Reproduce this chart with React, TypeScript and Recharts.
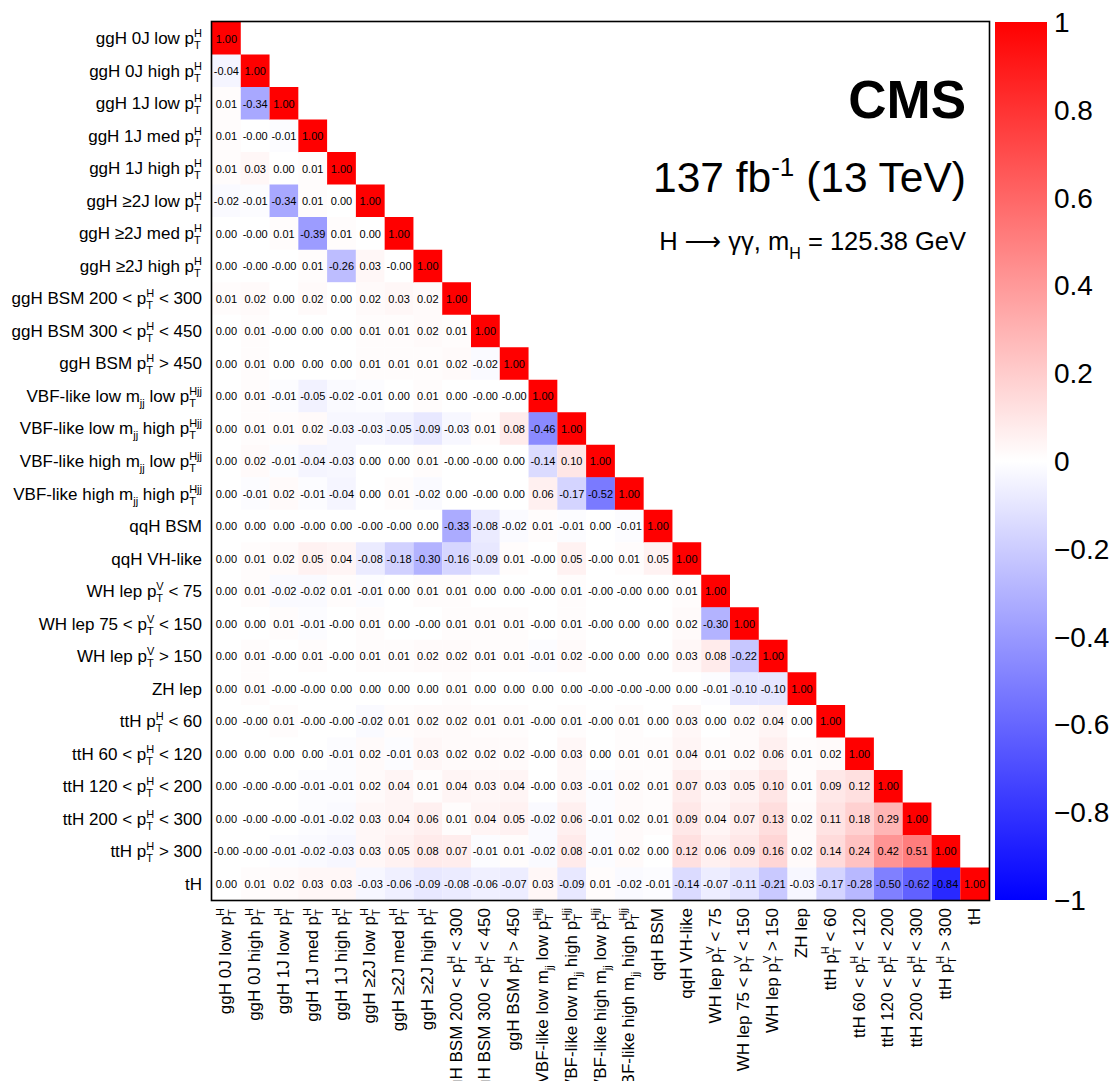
import React from 'react';
import { BarChart, Bar, Cell, XAxis, YAxis, LabelList } from 'recharts';

type Script = { sup?: string; sub?: string };
type Seg = string | Script;

const FONT = '"Liberation Sans", Arial, Helvetica, sans-serif';

const HT: Script = { sup: 'H', sub: 'T' };
const VT: Script = { sup: 'V', sub: 'T' };
const HJJ: Script = { sup: 'Hjj', sub: 'T' };
const JJ: Script = { sub: 'jj' };

// bin names, top row first (same order along the x axis)
const BIN_LABELS: Seg[][] = [
  ['ggH 0J low p', HT],
  ['ggH 0J high p', HT],
  ['ggH 1J low p', HT],
  ['ggH 1J med p', HT],
  ['ggH 1J high p', HT],
  ['ggH \u22652J low p', HT],
  ['ggH \u22652J med p', HT],
  ['ggH \u22652J high p', HT],
  ['ggH BSM 200 < p', HT, ' < 300'],
  ['ggH BSM 300 < p', HT, ' < 450'],
  ['ggH BSM p', HT, ' > 450'],
  ['VBF-like low m', JJ, ' low p', HJJ],
  ['VBF-like low m', JJ, ' high p', HJJ],
  ['VBF-like high m', JJ, ' low p', HJJ],
  ['VBF-like high m', JJ, ' high p', HJJ],
  ['qqH BSM'],
  ['qqH VH-like'],
  ['WH lep p', VT, ' < 75'],
  ['WH lep 75 < p', VT, ' < 150'],
  ['WH lep p', VT, ' > 150'],
  ['ZH lep'],
  ['ttH p', HT, ' < 60'],
  ['ttH 60 < p', HT, ' < 120'],
  ['ttH 120 < p', HT, ' < 200'],
  ['ttH 200 < p', HT, ' < 300'],
  ['ttH p', HT, ' > 300'],
  ['tH'],
];

// lower triangle of the correlation matrix (-0 marks a printed "-0.00")
const CORR_ROWS: number[][] = [
  [1.0],
  [-0.04, 1.0],
  [0.01, -0.34, 1.0],
  [0.01, -0, -0.01, 1.0],
  [0.01, 0.03, 0.0, 0.01, 1.0],
  [-0.02, -0.01, -0.34, 0.01, 0.0, 1.0],
  [0.0, -0, 0.01, -0.39, 0.01, 0.0, 1.0],
  [0.0, -0, -0, 0.01, -0.26, 0.03, -0, 1.0],
  [0.01, 0.02, 0.0, 0.02, 0.0, 0.02, 0.03, 0.02, 1.0],
  [0.0, 0.01, -0, 0.0, 0.0, 0.01, 0.01, 0.02, 0.01, 1.0],
  [0.0, 0.01, 0.0, 0.0, 0.0, 0.01, 0.01, 0.01, 0.02, -0.02, 1.0],
  [0.0, 0.01, -0.01, -0.05, -0.02, -0.01, 0.0, 0.01, 0.0, -0, -0, 1.0],
  [0.0, 0.01, 0.01, 0.02, -0.03, -0.03, -0.05, -0.09, -0.03, 0.01, 0.08, -0.46, 1.0],
  [0.0, 0.02, -0.01, -0.04, -0.03, 0.0, 0.0, 0.01, -0, -0, 0.0, -0.14, 0.1, 1.0],
  [0.0, -0.01, 0.02, -0.01, -0.04, 0.0, 0.01, -0.02, 0.0, -0, 0.0, 0.06, -0.17, -0.52, 1.0],
  [0.0, 0.0, 0.0, -0, 0.0, -0, -0, 0.0, -0.33, -0.08, -0.02, 0.01, -0.01, 0.0, -0.01, 1.0],
  [0.0, 0.01, 0.02, 0.05, 0.04, -0.08, -0.18, -0.3, -0.16, -0.09, 0.01, -0, 0.05, -0, 0.01, 0.05, 1.0],
  [0.0, 0.01, -0.02, -0.02, 0.01, -0.01, 0.0, 0.01, 0.01, 0.0, 0.0, -0, 0.01, -0, -0, 0.0, 0.01, 1.0],
  [0.0, 0.0, 0.01, -0.01, -0, 0.01, 0.0, -0, 0.01, 0.01, 0.01, -0, 0.01, -0, 0.0, 0.0, 0.02, -0.3, 1.0],
  [0.0, 0.01, -0, 0.01, -0, 0.01, 0.01, 0.02, 0.02, 0.01, 0.01, -0.01, 0.02, -0, 0.0, 0.0, 0.03, 0.08, -0.22, 1.0],
  [0.0, 0.01, -0, -0, 0.0, 0.0, 0.0, 0.0, 0.01, 0.0, 0.0, 0.0, 0.0, -0, -0, -0, 0.0, -0.01, -0.1, -0.1, 1.0],
  [0.0, -0, 0.01, -0, -0, -0.02, 0.01, 0.02, 0.02, 0.01, 0.01, -0, 0.01, -0, 0.01, 0.0, 0.03, 0.0, 0.02, 0.04, 0.0, 1.0],
  [0.0, 0.0, 0.0, 0.0, -0.01, 0.02, -0.01, 0.03, 0.02, 0.02, 0.02, -0, 0.03, 0.0, 0.01, 0.01, 0.04, 0.01, 0.02, 0.06, 0.01, 0.02, 1.0],
  [0.0, -0, -0, -0.01, -0.01, 0.02, 0.04, 0.01, 0.04, 0.03, 0.04, -0, 0.03, -0.01, 0.02, 0.01, 0.07, 0.03, 0.05, 0.1, 0.01, 0.09, 0.12, 1.0],
  [0.0, -0, -0, -0.01, -0.02, 0.03, 0.04, 0.06, 0.01, 0.04, 0.05, -0.02, 0.06, -0.01, 0.02, 0.01, 0.09, 0.04, 0.07, 0.13, 0.02, 0.11, 0.18, 0.29, 1.0],
  [-0, -0, -0.01, -0.02, -0.03, 0.03, 0.05, 0.08, 0.07, -0.01, 0.01, -0.02, 0.08, -0.01, 0.02, 0.0, 0.12, 0.06, 0.09, 0.16, 0.02, 0.14, 0.24, 0.42, 0.51, 1.0],
  [0.0, 0.01, 0.02, 0.03, 0.03, -0.03, -0.06, -0.09, -0.08, -0.06, -0.07, 0.03, -0.09, 0.01, -0.02, -0.01, -0.14, -0.07, -0.11, -0.21, -0.03, -0.17, -0.28, -0.5, -0.62, -0.84, 1.0],
];

const CBAR_TICKS = [1, 0.8, 0.6, 0.4, 0.2, 0, -0.2, -0.4, -0.6, -0.8, -1];

const N = BIN_LABELS.length;
const W = 1113;
const H = 1081;
const PLOT_LEFT = 212;
const PLOT_TOP = 22;
const PLOT_RIGHT = 989;
const PLOT_BOTTOM = 900;

const COL_CENTERS = BIN_LABELS.map((_, j) => j + 0.5);

const rows = CORR_ROWS.map((r, i) => {
  const o: Record<string, any> = { name: String(i) };
  for (let j = 0; j < N; j++) {
    o[`c${j}`] = j <= i ? 1 : 0;
    o[`v${j}`] = j <= i ? r[j] : undefined;
  }
  return o;
});

const corrColor = (v: number) => {
  if (v >= 0) {
    const g = Math.round(255 * (1 - v));
    return `rgb(255,${g},${g})`;
  }
  const g = Math.round(255 * (1 + v));
  return `rgb(${g},${g},255)`;
};

const fmt = (v: number) => (v < 0 || Object.is(v, -0) ? '-' : '') + Math.abs(v).toFixed(2);

const SCRIPT_W: Record<string, number> = { H: 0.722, T: 0.611, V: 0.667, j: 0.222 };
const scriptWidth = (s: string, fs: number) =>
  s.split('').reduce((a, c) => a + (SCRIPT_W[c] ?? 0.556), 0) * fs;

// ROOT-like text with stacked super/subscripts
function richSpans(segs: Seg[], fs: number, up: number, down: number) {
  const sfs = Math.round(fs * 0.62);
  const out: React.ReactNode[] = [];
  let cur = 0;
  let pending = 0;
  segs.forEach((s, k) => {
    if (typeof s === 'string') {
      out.push(
        <tspan key={k} dx={pending || undefined} dy={-cur || undefined}>
          {s}
        </tspan>
      );
      cur = 0;
      pending = 0;
      return;
    }
    if (s.sup) {
      out.push(
        <tspan key={`${k}a`} fontSize={sfs} dx={pending || undefined} dy={-up - cur}>
          {s.sup}
        </tspan>
      );
      cur = -up;
      pending = 0;
    }
    if (s.sub) {
      const back = s.sup ? -scriptWidth(s.sup, sfs) : 0;
      out.push(
        <tspan key={`${k}b`} fontSize={sfs} dx={back || pending || undefined} dy={down - cur}>
          {s.sub}
        </tspan>
      );
      cur = down;
      pending = s.sup ? Math.max(0, scriptWidth(s.sup, sfs) - scriptWidth(s.sub, sfs)) : 0;
    }
  });
  return out;
}

const RowTick = (props: any) => {
  const { x, y, payload } = props;
  const i = Number(payload.value);
  return (
    <text x={x} y={y + 6} textAnchor="end" fontSize={17} fontFamily={FONT} fill="#000" style={{ whiteSpace: 'pre' }}>
      {richSpans(BIN_LABELS[i], 17, 7, 5)}
    </text>
  );
};

const ColTick = (props: any) => {
  const { x, y, payload } = props;
  const i = Math.floor(payload.value);
  return (
    <g transform={`translate(${x + 5},${y}) rotate(-90)`}>
      <text x={0} y={0} textAnchor="end" fontSize={17} fontFamily={FONT} fill="#000" style={{ whiteSpace: 'pre' }}>
        {richSpans(BIN_LABELS[i], 17, 7, 5)}
      </text>
    </g>
  );
};

const cellText = (p: any) => {
  if (p.value == null) return null;
  const x = Number(p.x) + Number(p.width) / 2;
  const y = Number(p.y) + Number(p.height) / 2;
  return (
    <text key={`t${p.index}`} x={x} y={y + 4} textAnchor="middle" fontSize={11} fontFamily={FONT} fill="#000">
      {fmt(p.value)}
    </text>
  );
};

const cbarTick = (v: number) => (v === 0 ? '0' : (v < 0 ? '\u2212' : '') + String(Math.abs(v)));

const cbarData = [{ name: 'z', span: [-1, 1] }];

export default function App() {
  return (
    <div style={{ position: 'absolute', left: 0, top: 0, width: W, height: H, background: '#fff', fontFamily: FONT }}>
      <svg width={0} height={0} style={{ position: 'absolute' }}>
        <defs>
          <linearGradient id="cbGrad" x1="0" y1="0" x2="0" y2="1">
            <stop offset="0%" stopColor="#ff0000" />
            <stop offset="50%" stopColor="#ffffff" />
            <stop offset="100%" stopColor="#0000ff" />
          </linearGradient>
        </defs>
      </svg>

      <div style={{ position: 'absolute', left: 0, top: 0 }}>
        <BarChart
          width={W}
          height={H}
          data={rows}
          layout="vertical"
          barCategoryGap={0}
          barGap={0}
          margin={{ top: PLOT_TOP, right: W - PLOT_RIGHT, bottom: 0, left: PLOT_LEFT - 200 }}
        >
          <XAxis
            type="number"
            domain={[0, N]}
            ticks={COL_CENTERS}
            interval={0}
            height={H - PLOT_BOTTOM}
            tick={<ColTick />}
            tickLine={false}
            axisLine={false}
            tickSize={6}
            tickMargin={2}
          />
          <XAxis
            xAxisId="top"
            orientation="top"
            type="number"
            domain={[0, N]}
            ticks={COL_CENTERS}
            interval={0}
            mirror
            tick={false}
            tickSize={5}
            tickLine={{ stroke: '#000' }}
            axisLine={false}
          />
          <YAxis
            type="category"
            dataKey="name"
            width={200}
            interval={0}
            tick={<RowTick />}
            tickLine={false}
            axisLine={false}
            tickSize={6}
            tickMargin={4}
          />
          <YAxis
            yAxisId="right"
            orientation="right"
            type="category"
            dataKey="name"
            interval={0}
            mirror
            tick={false}
            tickSize={5}
            tickLine={{ stroke: '#000' }}
            axisLine={false}
          />
          {BIN_LABELS.map((_, j) => (
            <Bar key={j} dataKey={`c${j}`} stackId="m" isAnimationActive={false}>
              {rows.map((_, i) => (
                <Cell key={i} fill={j <= i ? corrColor(CORR_ROWS[i][j]) : 'none'} />
              ))}
              <LabelList dataKey={`v${j}`} content={cellText} />
            </Bar>
          ))}
        </BarChart>
      </div>

      <div style={{ position: 'absolute', left: 995, top: 0 }}>
        <BarChart
          width={118}
          height={H}
          data={cbarData}
          barCategoryGap={0}
          margin={{ top: PLOT_TOP, right: 0, bottom: H - PLOT_BOTTOM, left: 0 }}
        >
          <XAxis dataKey="name" type="category" hide />
          <YAxis
            orientation="right"
            type="number"
            domain={[-1, 1]}
            ticks={CBAR_TICKS}
            interval={0}
            width={66}
            tickFormatter={cbarTick}
            tick={{ fontSize: 28, fill: '#000', fontFamily: FONT }}
            tickLine={false}
            axisLine={false}
            tickSize={3}
            tickMargin={4}
          />
          <Bar dataKey="span" fill="url(#cbGrad)" isAnimationActive={false} />
        </BarChart>
      </div>

      <svg width={W} height={H} style={{ position: 'absolute', left: 0, top: 0, pointerEvents: 'none' }}>
        <rect
          x={PLOT_LEFT - 0.5}
          y={PLOT_TOP - 0.5}
          width={PLOT_RIGHT - PLOT_LEFT + 1}
          height={PLOT_BOTTOM - PLOT_TOP + 1}
          fill="none"
          stroke="#000"
          strokeWidth={1.6}
        />
        <text x={966} y={118} textAnchor="end" fontSize={53} fontWeight="bold" fontFamily={FONT} fill="#000">
          CMS
        </text>
        <text x={966} y={192} textAnchor="end" fontSize={42.5} fontFamily={FONT} fill="#000" style={{ whiteSpace: 'pre' }}>
          {richSpans(['137 fb', { sup: '-1' }, ' (13 TeV)'], 42.5, 16, 0)}
        </text>
        <text x={966} y={250} textAnchor="end" fontSize={25.5} fontFamily={FONT} fill="#000" style={{ whiteSpace: 'pre' }}>
          <tspan>H </tspan>
          <tspan fontFamily='"DejaVu Sans", sans-serif'>{'\u27f6'}</tspan>
          <tspan> {'\u03b3\u03b3'}, m</tspan>
          <tspan fontSize={16} dy={9}>H</tspan>
          <tspan dy={-9}> = 125.38 GeV</tspan>
        </text>
      </svg>
    </div>
  );
}
